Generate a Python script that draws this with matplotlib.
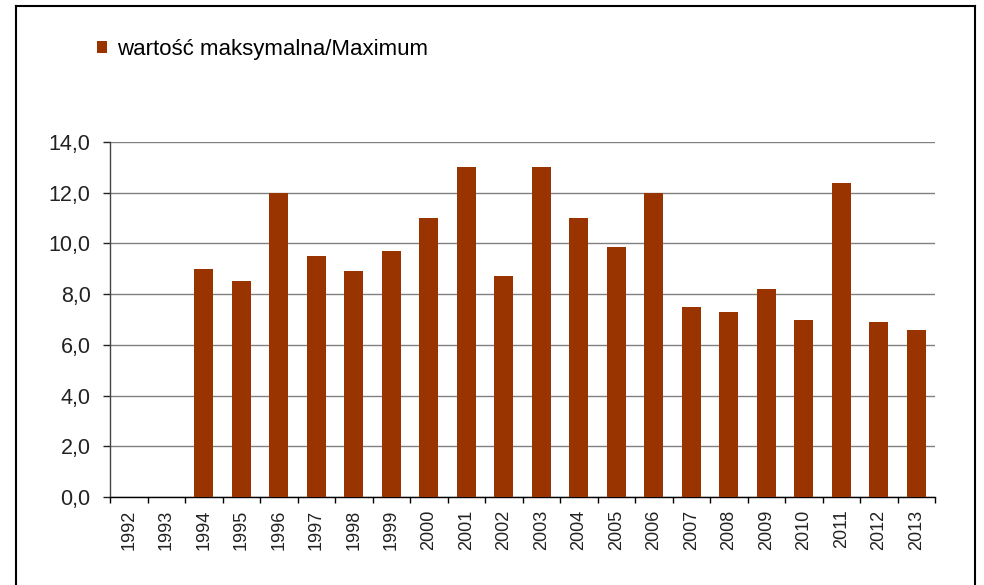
import matplotlib
matplotlib.use('Agg')
import matplotlib.pyplot as plt
from matplotlib.lines import Line2D
from matplotlib.ticker import FuncFormatter, FixedLocator

plt.rcParams['font.family'] = ['Liberation Sans', 'DejaVu Sans']

years = [str(y) for y in range(1992, 2014)]
maximum = [0, 0, 9.0, 8.5, 12.0, 9.5, 8.9, 9.7, 11.0, 13.0, 8.7,
           13.0, 11.0, 9.85, 12.0, 7.5, 7.3, 8.2, 7.0, 12.4, 6.9, 6.6]
series_name = 'wartość maksymalna/Maximum'
yticks = [0, 2, 4, 6, 8, 10, 12, 14]

W, H = 984, 585
fig = plt.figure(figsize=(W / 100, H / 100), dpi=100)
ax = fig.add_axes([110 / W, 1 - 497 / H, (935 - 110) / W, (497 - 142) / H])

x = list(range(len(years)))
ax.bar(x, maximum, width=0.5, color='#993300', label=series_name, zorder=3)

ax.set_xlim(-0.5, len(years) - 0.5)
ax.set_ylim(0, 14)
ax.set_yticks(yticks)
ax.yaxis.set_major_formatter(FuncFormatter(lambda v, p: f'{v:.1f}'.replace('.', ',')))
ax.set_xticks(x)
ax.set_xticklabels(years, rotation=90, fontsize=13, color='#222222')
ax.xaxis.set_minor_locator(FixedLocator([i - 0.5 for i in range(len(years) + 1)]))
ax.tick_params(axis='x', which='major', length=0, pad=9)
ax.tick_params(axis='x', which='minor', length=4, width=1, color='black', direction='out')
ax.tick_params(axis='y', length=5, width=1, pad=9, labelsize=15.5, colors='#222222')

ax.grid(axis='y', color='#808080', linewidth=1.0, zorder=0)
for s in ['top', 'right']:
    ax.spines[s].set_visible(False)
ax.spines['left'].set_color('#444444')
ax.spines['bottom'].set_color('black')
ax.spines['left'].set_linewidth(1.0)
ax.spines['bottom'].set_linewidth(1.0)

fig.legend(loc='center left', bbox_to_anchor=(97 / W, 1 - 49 / H), frameon=False,
           fontsize=16, handlelength=0.45, handleheight=0.45, handletextpad=0.45,
           borderpad=0, borderaxespad=0)

# outer frame
kw = dict(color='black', linewidth=1.5, transform=fig.transFigure)
fig.add_artist(Line2D([16 / W, 16 / W], [0, 1 - 6 / H], **kw))
fig.add_artist(Line2D([16 / W, 975 / W], [1 - 6 / H, 1 - 6 / H], **kw))
fig.add_artist(Line2D([975 / W, 975 / W], [0, 1 - 6 / H], **kw))

fig.savefig('out.png', dpi=100)
